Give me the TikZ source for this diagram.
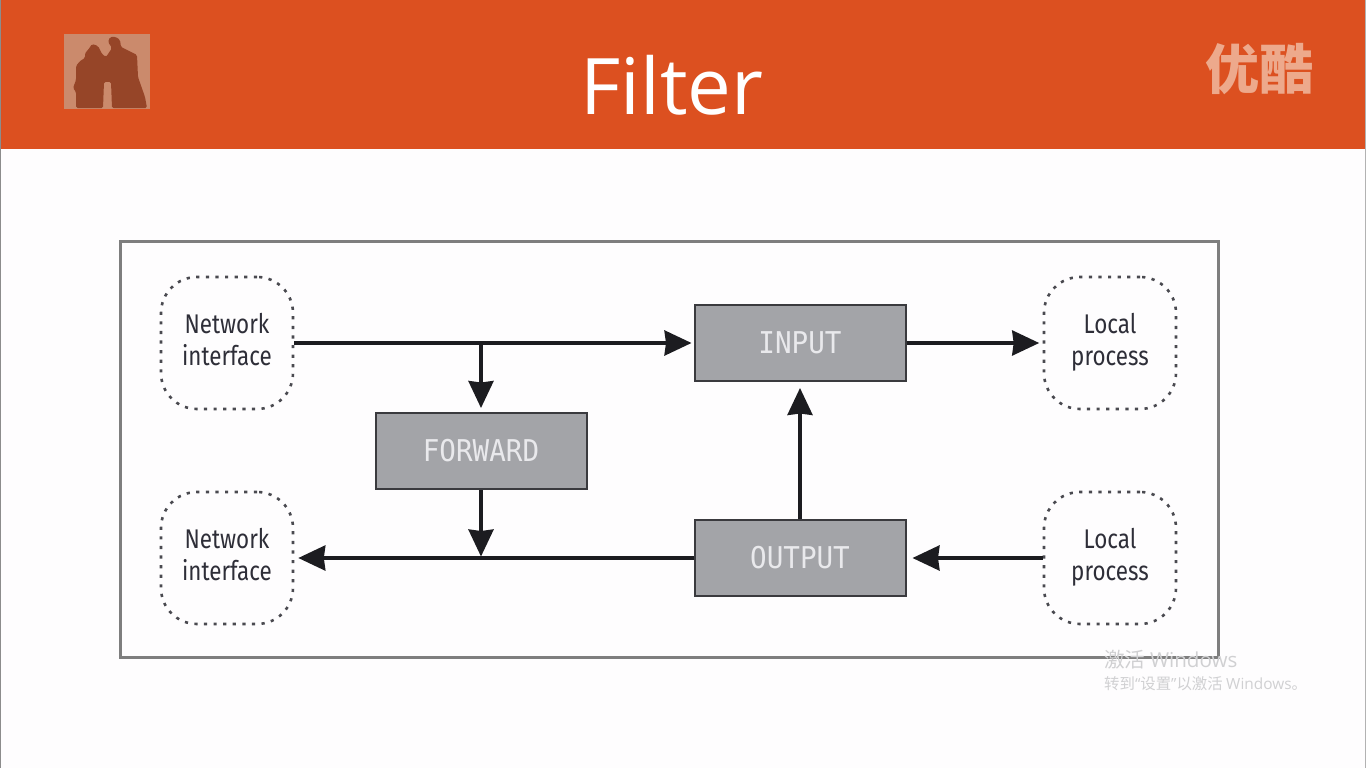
\documentclass[tikz,border=0pt]{standalone}
\usepackage{fontspec}
\setmainfont{Open Sans}
\newfontfamily\cjk{Noto Sans CJK SC}
\newfontfamily\winfont{Open Sans}
\newfontfamily\labelfont[FakeStretch=0.83]{Fira Sans}
\newfontfamily\boxfont[FakeStretch=0.92]{DejaVu Sans Mono}
\usetikzlibrary{arrows.meta}
\definecolor{bar}{HTML}{DC5020}
\definecolor{paper}{HTML}{FEFDFE}
\definecolor{frameC}{HTML}{7E7E7E}
\definecolor{boxC}{HTML}{A3A4A8}
\definecolor{boxEdge}{HTML}{3A3A3E}
\definecolor{ink}{HTML}{1C1C20}
\definecolor{labelC}{HTML}{2E2E38}
\definecolor{dotC}{HTML}{4A4A50}
\definecolor{boxText}{HTML}{E9E9EC}
\definecolor{wm}{HTML}{D0D0D2}
\definecolor{logoBack}{HTML}{CB8A6C}
\definecolor{logoFig}{HTML}{964528}
\definecolor{youkuC}{HTML}{EDA98C}
\tikzset{
  x=1pt,y=-1pt,
  filt/.style={draw=boxEdge,line width=2pt,fill=boxC,text=boxText,minimum width=211pt,minimum height=76pt,inner sep=0pt,font=\boxfont\fontsize{30}{30}\selectfont},
  ifc/.style={draw=dotC,line width=2.6pt,dash pattern=on 3.2pt off 6.4pt,rounded corners=36pt,minimum width=132pt,minimum height=132pt,inner sep=0pt,align=center,text=labelC,font=\labelfont\fontsize{27}{31.5}\selectfont},
  conn/.style={draw=ink,line width=3.4pt,-{Stealth[length=27pt,width=25pt,inset=1.5pt]}},
  wmtext/.style={text=wm,anchor=west,inner sep=0pt}
}
\begin{document}
\begin{tikzpicture}
\useasboundingbox (0,0) rectangle (1366,768);
\fill[paper] (0,0) rectangle (1366,768);
\fill[bar] (0,0) rectangle (1366,149);
% left and right screen edges
\fill[black!45] (0,0) rectangle (1,768);
\fill[black!30] (1365,0) rectangle (1366,768);
% logo
\fill[logoBack] (64,34) rectangle (150,109);
\fill[logoFig,rounded corners=1.5pt] (76,108) -- (76,92) -- (73,88) -- (76,80) -- (76,66) -- (80,61) -- (85,58) -- (85,53) -- (88,50) -- (92,44) -- (98,46) -- (102,54) -- (106,57) -- (112,48) -- (108,42) -- (110,37) -- (116,37) -- (120,40) -- (121,47) -- (137,55) -- (138,77) -- (145,97) -- (147,108) -- (112,108) -- (111,82) -- (104,82) -- (103,108) -- cycle;
\node[text=white,font=\fontsize{78}{78}\selectfont] (title) at (672,85) {Filter};
\node[text=youkuC,font=\cjk\fontsize{54}{54}\selectfont\bfseries] (youku) at (1259,69) {优酷};
\draw[frameC,line width=3pt,fill=paper] (120,241) rectangle (1218,657);
\node[ifc] (ni1) at (227,343) {Network\strut\\interface\strut};
\node[ifc] (ni2) at (227,558) {Network\strut\\interface\strut};
\node[ifc] (lp1) at (1110,343) {Local\strut\\process\strut};
\node[ifc] (lp2) at (1110,558) {Local\strut\\process\strut};
\node[filt] (input) at (800,343) {INPUT};
\node[filt] (output) at (800,558) {OUTPUT};
\node[filt] (forward) at (481,451) {FORWARD};
\coordinate (b1) at (forward.north |- ni1.east);
\coordinate (b2) at (forward.south |- ni2.east);
\draw[conn,shorten >=2pt] (ni1.east) -- (input.west);
\draw[conn,shorten >=3.5pt] (input.east) -- (lp1.west);
\draw[conn,shorten >=4pt] (b1) -- (forward.north);
\draw[conn,shorten >=1.5pt] (forward.south) -- (b2);
\draw[conn,shorten >=4pt] (output.west) -- (ni2.east);
\draw[conn,shorten >=6pt] (lp2.west) -- (output.east);
\draw[conn,shorten >=6pt] (output.north) -- (input.south);
\node[wmtext,font=\cjk\fontsize{20.6}{22}\selectfont] (w1) at (1104,660) {激活 {\winfont Windows}};
\node[wmtext,font=\cjk\fontsize{15.4}{17}\selectfont] (w2) at (1104,684) {转到{\winfont “}设置{\winfont ”}以激活 {\winfont Windows}。};
\end{tikzpicture}
\end{document}
